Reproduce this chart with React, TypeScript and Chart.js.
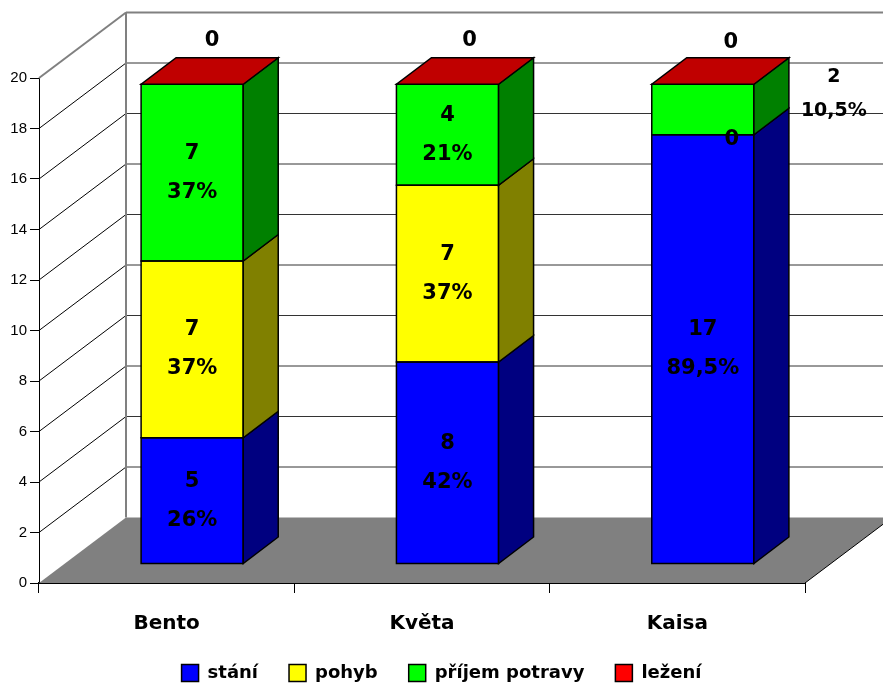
import React, { useEffect, useRef } from "react";
import { Chart, registerables } from "chart.js";

Chart.register(...registerables);

const animals = ["Bento", "Květa", "Kaisa"];
const stani = [5, 8, 17];
const pohyb = [7, 7, 0];
const prijemPotravy = [7, 4, 2];
const lezeni = [0, 0, 0];

const staniShare = ["26%", "42%", "89,5%"];
const pohybShare = ["37%", "37%", ""];
const prijemShare = ["37%", "21%", "10,5%"];
const lezeniShare = ["", "", ""];

const FONT = '"DejaVu Sans", sans-serif';

// Oblique projection of the box: wall depth and the plane the bars stand in.
const WALL_DX = 87;
const WALL_DY = -65.5;
const BAR_SHIFT_X = 25.5;
const BAR_SHIFT_Y = -19;
const BAR_DX = 35;
const BAR_DY = -26.5;

// Hand placement for the labels that do not sit in the middle of their segment.
const labelPlacement: Record<string, { dx: number; dy: number; size?: number; gap?: number }> = {
  "3:0": { dx: 20, dy: -44 },
  "3:1": { dx: 22, dy: -44 },
  "3:2": { dx: 28, dy: -42 },
  "1:2": { dx: 29, dy: 5 },
  "2:2": { dx: 131, dy: -15.5, size: 19, gap: 17 },
};

function polygon(ctx: CanvasRenderingContext2D, pts: number[][], fill: string | null, stroke = "#000") {
  ctx.beginPath();
  pts.forEach(([x, y], i) => (i ? ctx.lineTo(x, y) : ctx.moveTo(x, y)));
  ctx.closePath();
  if (fill) {
    ctx.fillStyle = fill;
    ctx.fill();
  }
  ctx.strokeStyle = stroke;
  ctx.lineWidth = 1.5;
  ctx.stroke();
}

function line(ctx: CanvasRenderingContext2D, x1: number, y1: number, x2: number, y2: number, color: string, width = 1) {
  ctx.beginPath();
  ctx.moveTo(x1, y1);
  ctx.lineTo(x2, y2);
  ctx.strokeStyle = color;
  ctx.lineWidth = width;
  ctx.stroke();
}

const boxPlugin = {
  id: "box3d",
  beforeDatasetsDraw(chart: any) {
    const { ctx, chartArea: a, scales } = chart;
    const y0 = scales.y.getPixelForValue(0);
    ctx.save();
    // floor
    ctx.beginPath();
    ctx.moveTo(a.left, y0);
    ctx.lineTo(a.right, y0);
    ctx.lineTo(a.right + WALL_DX, y0 + WALL_DY);
    ctx.lineTo(a.left + WALL_DX, y0 + WALL_DY);
    ctx.closePath();
    ctx.fillStyle = "#808080";
    ctx.fill();
    line(ctx, a.right, y0, a.right + WALL_DX, y0 + WALL_DY, "#000");
    // grid lines running along the side wall and the back wall
    for (const t of scales.y.ticks) {
      const py = scales.y.getPixelForValue(t.value);
      if (t.value === 0) continue;
      const top = t.value === 20;
      line(ctx, a.left, py, a.left + WALL_DX, py + WALL_DY, top ? "#808080" : "#000", top ? 2 : 1);
      line(ctx, a.left + WALL_DX, py + WALL_DY, a.right + WALL_DX, py + WALL_DY, top ? "#808080" : "#333", top ? 2 : 1);
    }
    line(ctx, a.left + WALL_DX, a.top + WALL_DY, a.left + WALL_DX, y0 + WALL_DY, "#808080", 2);
    ctx.restore();
    // the bars stand further back than the axes
    ctx.save();
    ctx.translate(BAR_SHIFT_X, BAR_SHIFT_Y);
  },
  afterDatasetsDraw(chart: any) {
    const { ctx } = chart;
    const metas = chart.getSortedVisibleDatasetMetas();
    metas.forEach((meta: any) => {
      const side = chart.data.datasets[meta.index].sideColor;
      meta.data.forEach((bar: any) => {
        if (Math.abs(bar.base - bar.y) < 0.5) return;
        const l = bar.x - bar.width / 2;
        const r = bar.x + bar.width / 2;
        // outline of the front face, then the shaded right side
        polygon(ctx, [[l, bar.y], [r, bar.y], [r, bar.base], [l, bar.base]], null);
        polygon(ctx, [
          [r, bar.y],
          [r + BAR_DX, bar.y + BAR_DY],
          [r + BAR_DX, bar.base + BAR_DY],
          [r, bar.base],
        ], side);
      });
    });
    // the top face takes the shade of the last series in the stack
    const last = metas[metas.length - 1];
    last.data.forEach((bar: any) => {
      const l = bar.x - bar.width / 2;
      const r = bar.x + bar.width / 2;
      polygon(ctx, [
        [l, bar.y],
        [r, bar.y],
        [r + BAR_DX, bar.y + BAR_DY],
        [l + BAR_DX, bar.y + BAR_DY],
      ], chart.data.datasets[last.index].sideColor);
    });
    ctx.restore();
  },
  afterDraw(chart: any) {
    const { ctx } = chart;
    ctx.save();
    ctx.fillStyle = "#000";
    ctx.textAlign = "center";
    ctx.textBaseline = "middle";
    chart.getSortedVisibleDatasetMetas().forEach((meta: any) => {
      const ds = chart.data.datasets[meta.index];
      meta.data.forEach((bar: any, i: number) => {
        const place = labelPlacement[`${meta.index}:${i}`] ?? { dx: 0, dy: 0 };
        const x = bar.x + BAR_SHIFT_X + place.dx;
        const y = (bar.y + bar.base) / 2 + BAR_SHIFT_Y + place.dy;
        const gap = place.gap ?? 19.5;
        ctx.font = `bold ${place.size ?? 21}px ${FONT}`;
        const value = String(ds.data[i]);
        if (ds.share[i]) {
          ctx.fillText(value, x, y - gap);
          ctx.fillText(ds.share[i], x, y + gap);
        } else {
          ctx.fillText(value, x, y);
        }
      });
    });
    ctx.restore();
  },
};

export default function App() {
  const ref = useRef<HTMLCanvasElement>(null);

  useEffect(() => {
    document.body.style.margin = "0";
    const chart = new Chart(ref.current!, {
      type: "bar",
      data: {
        labels: animals,
        datasets: [
          { label: "stání", data: stani, share: staniShare, backgroundColor: "#0000ff", sideColor: "#000080" },
          { label: "pohyb", data: pohyb, share: pohybShare, backgroundColor: "#ffff00", sideColor: "#808000" },
          { label: "příjem potravy", data: prijemPotravy, share: prijemShare, backgroundColor: "#00ff00", sideColor: "#008000" },
          { label: "ležení", data: lezeni, share: lezeniShare, backgroundColor: "#ff0000", sideColor: "#c00000" },
        ].map((d) => ({
          ...d,
          borderColor: "#000",
          borderWidth: 0,
          barPercentage: 0.4,
          categoryPercentage: 1,
          clip: false,
        })) as any,
      },
      options: {
        responsive: false,
        animation: false,
        layout: { padding: { top: 78, right: 0, left: 0, bottom: -8 } },
        scales: {
          x: {
            stacked: true,
            grid: { drawOnChartArea: false, tickLength: 10, tickColor: "#000", tickWidth: 1 },
            border: { color: "#000", width: 2 },
            ticks: { color: "#000", padding: 19, font: { family: FONT, size: 20, weight: "bold" }, maxRotation: 0 },
            afterFit: (s: any) => { s.height = 50; },
          },
          y: {
            stacked: true,
            min: 0,
            max: 20,
            grid: { drawOnChartArea: false, tickLength: 9, tickColor: "#000", tickWidth: 1 },
            border: { color: "#000", width: 1 },
            ticks: { stepSize: 2, color: "#000", padding: 3, font: { family: "'Liberation Sans', sans-serif", size: 15 } },
            afterFit: (s: any) => { s.width = 39; },
          },
          // empty axis that reserves the room the walls recede into
          depth: {
            type: "linear",
            position: "right",
            ticks: { display: false },
            grid: { display: false },
            border: { display: false },
            afterFit: (s: any) => { s.width = 78; },
          },
        },
        plugins: {
          tooltip: { enabled: false },
          legend: {
            position: "bottom",
            labels: {
              color: "#000",
              boxWidth: 17,
              boxHeight: 17,
              padding: 31,
              font: { family: FONT, size: 18, weight: "bold" },
              generateLabels: (c: any) =>
                Chart.defaults.plugins.legend.labels
                  .generateLabels(c)
                  .map((item: any) => ({ ...item, lineWidth: 1.5, strokeStyle: "#000" })),
            },
          },
        },
      } as any,
      plugins: [boxPlugin],
    });
    return () => chart.destroy();
  }, []);

  return <canvas ref={ref} width={883} height={684} style={{ display: "block" }} />;
}
